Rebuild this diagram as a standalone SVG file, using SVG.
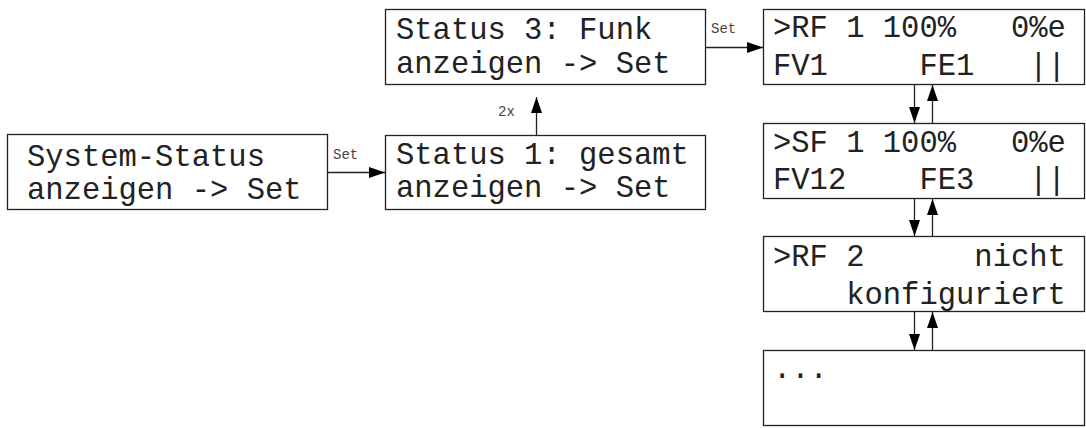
<svg xmlns="http://www.w3.org/2000/svg" width="1086" height="428" viewBox="0 0 1086 428">
<style>
.box{fill:#fff;stroke:#222;stroke-width:1.3}
.t{font-family:"Liberation Mono","Courier New",monospace;font-size:30.5px;fill:#222;white-space:pre}
.s{font-family:"Liberation Mono","Courier New",monospace;font-size:14px;fill:#444;white-space:pre}
.c{stroke:#222;stroke-width:1.3;fill:none}
</style>
<defs>
<marker id="ah" viewBox="0 0 16 11" refX="16" refY="5.5" markerWidth="16" markerHeight="11" markerUnits="userSpaceOnUse" orient="auto">
<path d="M0,0 L16,5.5 L0,11 Z" fill="#000"/>
</marker>
</defs>
<g id="n1"><rect class="box" x="7.5" y="134.5" width="320" height="75"/>
<text class="t" x="27" y="166">System-Status</text><text class="t" x="27" y="199">anzeigen -&gt; Set</text></g>
<g id="n2"><rect class="box" x="385.5" y="135.5" width="320" height="74"/>
<text class="t" x="396" y="164">Status 1: gesamt</text><text class="t" x="396" y="197">anzeigen -&gt; Set</text></g>
<g id="n3"><rect class="box" x="385.5" y="9.5" width="320" height="75"/>
<text class="t" x="396" y="39">Status 3: Funk</text><text class="t" x="396" y="73">anzeigen -&gt; Set</text></g>
<g id="r1"><rect class="box" x="763.5" y="9.5" width="321" height="75"/>
<text class="t" x="773" y="37">&gt;RF 1 100%   0%e</text><text class="t" x="773" y="75">FV1     FE1   ||</text></g>
<g id="r2"><rect class="box" x="763.5" y="123.5" width="321" height="75"/>
<text class="t" x="773" y="152">&gt;SF 1 100%   0%e</text><text class="t" x="773" y="189">FV12    FE3   ||</text></g>
<g id="r3"><rect class="box" x="763.5" y="236.5" width="321" height="75"/>
<text class="t" x="773" y="266">&gt;RF 2      nicht</text><text class="t" x="773" y="304">    konfiguriert</text></g>
<g id="r4"><rect class="box" x="763.5" y="350.5" width="321" height="75"/>
<text class="t" x="773" y="378">...</text></g>
<g id="connectors">
<line class="c" x1="328" y1="172.5" x2="385" y2="172.5" marker-end="url(#ah)"/>
<text class="s" x="333" y="159">Set</text>
<line class="c" x1="706" y1="47.5" x2="763" y2="47.5" marker-end="url(#ah)"/>
<text class="s" x="711" y="33">Set</text>
<line class="c" x1="536.5" y1="135" x2="536.5" y2="97" marker-end="url(#ah)"/>
<text class="s" x="498" y="116">2x</text>
<line class="c" x1="914.5" y1="85" x2="914.5" y2="123" marker-end="url(#ah)"/>
<line class="c" x1="932.5" y1="123" x2="932.5" y2="85" marker-end="url(#ah)"/>
<line class="c" x1="914.5" y1="199" x2="914.5" y2="236" marker-end="url(#ah)"/>
<line class="c" x1="932.5" y1="236" x2="932.5" y2="199" marker-end="url(#ah)"/>
<line class="c" x1="914.5" y1="312" x2="914.5" y2="350" marker-end="url(#ah)"/>
<line class="c" x1="932.5" y1="350" x2="932.5" y2="312" marker-end="url(#ah)"/>
</g>
</svg>
